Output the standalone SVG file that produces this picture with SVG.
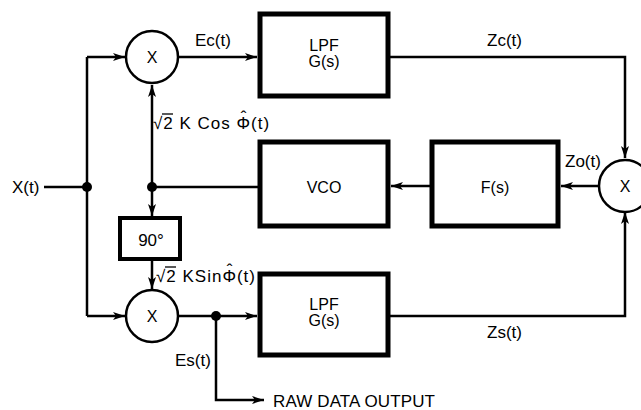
<svg xmlns="http://www.w3.org/2000/svg" width="641" height="410" viewBox="0 0 641 410">
<defs>
<marker id="ah" markerWidth="13" markerHeight="9" refX="12" refY="4.5" orient="auto" markerUnits="userSpaceOnUse">
<path d="M0,0.5 L12,4.5 L0,8.5 L3,4.5 Z" fill="#000"/>
</marker>
</defs>
<style>
text{font-family:"Liberation Sans",Arial,sans-serif;font-size:17px;fill:#000}
.c{text-anchor:middle}
.m{font-size:16px}
.eq{letter-spacing:1px}
.box{fill:#fff;stroke:#000;stroke-width:5}
.box2{fill:#fff;stroke:#000;stroke-width:4}
.circ{fill:#fff;stroke:#000;stroke-width:2.5}
.ln{fill:none;stroke:#000;stroke-width:2.5}
.ar{fill:none;stroke:#000;stroke-width:2.5;marker-end:url(#ah)}
</style>
<rect width="641" height="410" fill="#fff"/>
<g id="connectors">
<path class="ln" d="M44,187 H87"/>
<path class="ln" d="M87,57 V316"/>
<path class="ar" d="M87,57 H125"/>
<path class="ar" d="M87,316 H125"/>
<path class="ar" d="M178,57 H257"/>
<path class="ar" d="M390,57 H625 V158"/>
<path class="ar" d="M599,186 H561"/>
<path class="ar" d="M430,186 H391"/>
<path class="ln" d="M258,187 H152"/>
<path class="ar" d="M152,187 V85"/>
<path class="ar" d="M152,187 V216"/>
<path class="ar" d="M152,261 V289"/>
<path class="ar" d="M178,316 H257"/>
<path class="ar" d="M216,316 V400 H264"/>
<path class="ar" d="M390,316 H625 V212"/>
<circle cx="87" cy="187" r="5" fill="#000"/>
<circle cx="152" cy="187" r="5" fill="#000"/>
<circle cx="216" cy="316" r="5" fill="#000"/>
</g>
<g id="mulTop"><circle class="circ" cx="152" cy="57" r="26"/><text class="c m" x="152" y="63">X</text></g>
<g id="mulBot"><circle class="circ" cx="152" cy="316" r="26"/><text class="c m" x="152" y="322">X</text></g>
<g id="mulRight"><circle class="circ" cx="625" cy="186" r="26"/><text class="c m" x="625" y="192">X</text></g>
<g id="lpfTop"><rect class="box" x="260" y="14" width="128" height="82"/><text class="c m" x="324" y="51">LPF</text><text class="c m" x="324" y="67">G(s)</text></g>
<g id="lpfBot"><rect class="box" x="260" y="274" width="128" height="81"/><text class="c m" x="324" y="310">LPF</text><text class="c m" x="324" y="326">G(s)</text></g>
<g id="vco"><rect class="box" x="260" y="142" width="128" height="84"/><text class="c m" x="324" y="193">VCO</text></g>
<g id="fs"><rect class="box" x="432" y="142" width="126" height="84"/><text class="c m" x="495" y="193">F(s)</text></g>
<g id="shift90"><rect class="box2" x="120" y="218" width="60" height="41"/><text class="c" x="151" y="246">90°</text></g>
<g id="labels">
<text x="12" y="193">X(t)</text>
<text x="195" y="46">Ec(t)</text>
<text x="487" y="46">Zc(t)</text>
<text x="565" y="167">Zo(t)</text>
<text x="487" y="338">Zs(t)</text>
<text x="175" y="366">Es(t)</text>
<text x="273" y="407" textLength="162">RAW DATA OUTPUT</text>
<text class="eq" x="153" y="129">√2 K Cos Φ<tspan dx="-10.3" dy="-6">ˆ</tspan><tspan dx="3.6" dy="6">(t)</tspan></text>
<line x1="162" y1="114" x2="173" y2="114" stroke="#000" stroke-width="1.3"/>
<text class="eq" x="156" y="282">√2 KSinΦ<tspan dx="-10.3" dy="-6">ˆ</tspan><tspan dx="3.6" dy="6">(t)</tspan></text>
<line x1="165" y1="267" x2="176" y2="267" stroke="#000" stroke-width="1.3"/>
</g>
</svg>
